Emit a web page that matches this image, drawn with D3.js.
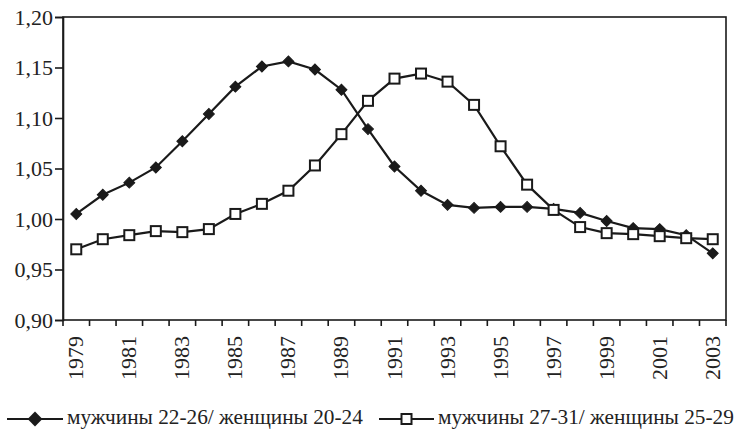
<!DOCTYPE html>
<html>
<head>
<meta charset="utf-8">
<script src="https://cdn.jsdelivr.net/npm/d3@7"></script>
<style>
  body { margin: 0; background: #fff; }
  svg text { font-family: "Liberation Serif", "Times New Roman", serif; }
</style>
</head>
<body>
<div id="chart-area"></div>
<script>
// years on the x axis
const years = d3.range(1979, 2004);
const yTicks = [0.90, 0.95, 1.00, 1.05, 1.10, 1.15, 1.20];

// мужчины 22-26 / женщины 20-24 (ромбы)
const series1 = [1.005, 1.024, 1.036, 1.051, 1.077, 1.104, 1.131, 1.151, 1.156, 1.148,
  1.128, 1.089, 1.052, 1.028, 1.014, 1.011, 1.012, 1.012, 1.010, 1.006,
  0.998, 0.991, 0.990, 0.984, 0.966];

// мужчины 27-31 / женщины 25-29 (квадраты)
const series2 = [0.970, 0.980, 0.984, 0.988, 0.987, 0.990, 1.005, 1.015, 1.028, 1.053,
  1.084, 1.117, 1.139, 1.144, 1.136, 1.113, 1.072, 1.034, 1.009, 0.992,
  0.986, 0.985, 0.983, 0.981, 0.980];

const labels = ["мужчины 22-26/ женщины 20-24", "мужчины 27-31/ женщины 25-29"];

const W = 739, H = 429;
const margin = { top: 17, right: 13, bottom: 109, left: 63 };
const width = W - margin.left - margin.right;
const height = H - margin.top - margin.bottom;

const svg = d3.select("#chart-area")
  .append("svg")
  .attr("width", W)
  .attr("height", H);

const g = svg.append("g")
  .attr("transform", `translate(${margin.left},${margin.top})`);

const x = d3.scaleBand()
  .domain(years)
  .range([0, width]);

const y = d3.scaleLinear()
  .domain([0.90, 1.20])
  .range([height, 0]);

const fmt = d => d3.format(".2f")(d).replace(".", ",");

// рамка
g.append("rect")
  .attr("width", width)
  .attr("height", height)
  .attr("fill", "none")
  .attr("stroke", "#1a1a1a")
  .attr("stroke-width", 1.6);

// ось Y
const yAxis = g.append("g")
  .call(d3.axisLeft(y).tickValues(yTicks).tickSize(8).tickFormat(fmt));
yAxis.attr("font-size", 22);
yAxis.select(".domain").attr("stroke", "#1a1a1a").attr("stroke-width", 1.6);
yAxis.selectAll(".tick line").attr("stroke", "#1a1a1a").attr("stroke-width", 1.6);
yAxis.selectAll("text")
  .attr("fill", "#222")
  .attr("x", -10);

// ось X: засечки на границах лет, подписи через год
const xb = g.append("g")
  .attr("transform", `translate(0,${height})`)
  .attr("font-size", 22);
const bounds = years.map(d => x(d)).concat([width]);
xb.selectAll("line")
  .data(bounds)
  .join("line")
  .attr("x1", d => d).attr("x2", d => d)
  .attr("y1", 0).attr("y2", 6)
  .attr("stroke", "#1a1a1a")
  .attr("stroke-width", 1.6);
xb.selectAll("text")
  .data(years.filter((d, i) => i % 2 === 0))
  .join("text")
  .attr("transform", d => `translate(${x(d) + x.bandwidth() / 2 + 7},16) rotate(-90)`)
  .attr("text-anchor", "end")
  .attr("fill", "#222")
  .text(d => d);

// линии
const line = d3.line()
  .x((d, i) => x(years[i]) + x.bandwidth() / 2)
  .y(d => y(d));

[series1, series2].forEach(s => {
  g.append("path")
    .datum(s)
    .attr("fill", "none")
    .attr("stroke", "#1a1a1a")
    .attr("stroke-width", 2.2)
    .attr("d", line);
});

const diamond = d3.symbol().type(d3.symbolSquare).size(60);

g.selectAll(".dia")
  .data(series1)
  .join("path")
  .attr("class", "dia")
  .attr("d", diamond)
  .attr("transform", (d, i) => `translate(${x(years[i]) + x.bandwidth() / 2},${y(d)}) rotate(45)`)
  .attr("fill", "#1a1a1a")
  .attr("stroke", "#1a1a1a")
  .attr("stroke-width", 1);

g.selectAll(".sq")
  .data(series2)
  .join("rect")
  .attr("class", "sq")
  .attr("x", (d, i) => x(years[i]) + x.bandwidth() / 2 - 5)
  .attr("y", d => y(d) - 5)
  .attr("width", 10)
  .attr("height", 10)
  .attr("fill", "#fff")
  .attr("stroke", "#1a1a1a")
  .attr("stroke-width", 2);

// легенда
const legendY = 419;
const leg = svg.append("g")
  .attr("font-size", 21.3);
const items = [
  { x0: 7, x1: 63, label: labels[0], marker: "dia" },
  { x0: 379, x1: 434, label: labels[1], marker: "sq" }
];
items.forEach(it => {
  const cx = (it.x0 + it.x1) / 2;
  leg.append("line")
    .attr("x1", it.x0).attr("x2", it.x1)
    .attr("y1", legendY).attr("y2", legendY)
    .attr("stroke", "#1a1a1a").attr("stroke-width", 2.2);
  if (it.marker === "dia") {
    leg.append("path")
      .attr("d", d3.symbol().type(d3.symbolSquare).size(110))
      .attr("transform", `translate(${cx},${legendY}) rotate(45)`)
      .attr("fill", "#1a1a1a");
  } else {
    leg.append("rect")
      .attr("x", cx - 5).attr("y", legendY - 5)
      .attr("width", 10).attr("height", 10)
      .attr("fill", "#fff").attr("stroke", "#1a1a1a").attr("stroke-width", 2);
  }
  leg.append("text")
    .attr("x", it.x1 + 4)
    .attr("y", 424)
    .attr("fill", "#222")
    .text(it.label);
});
</script>
</body>
</html>
